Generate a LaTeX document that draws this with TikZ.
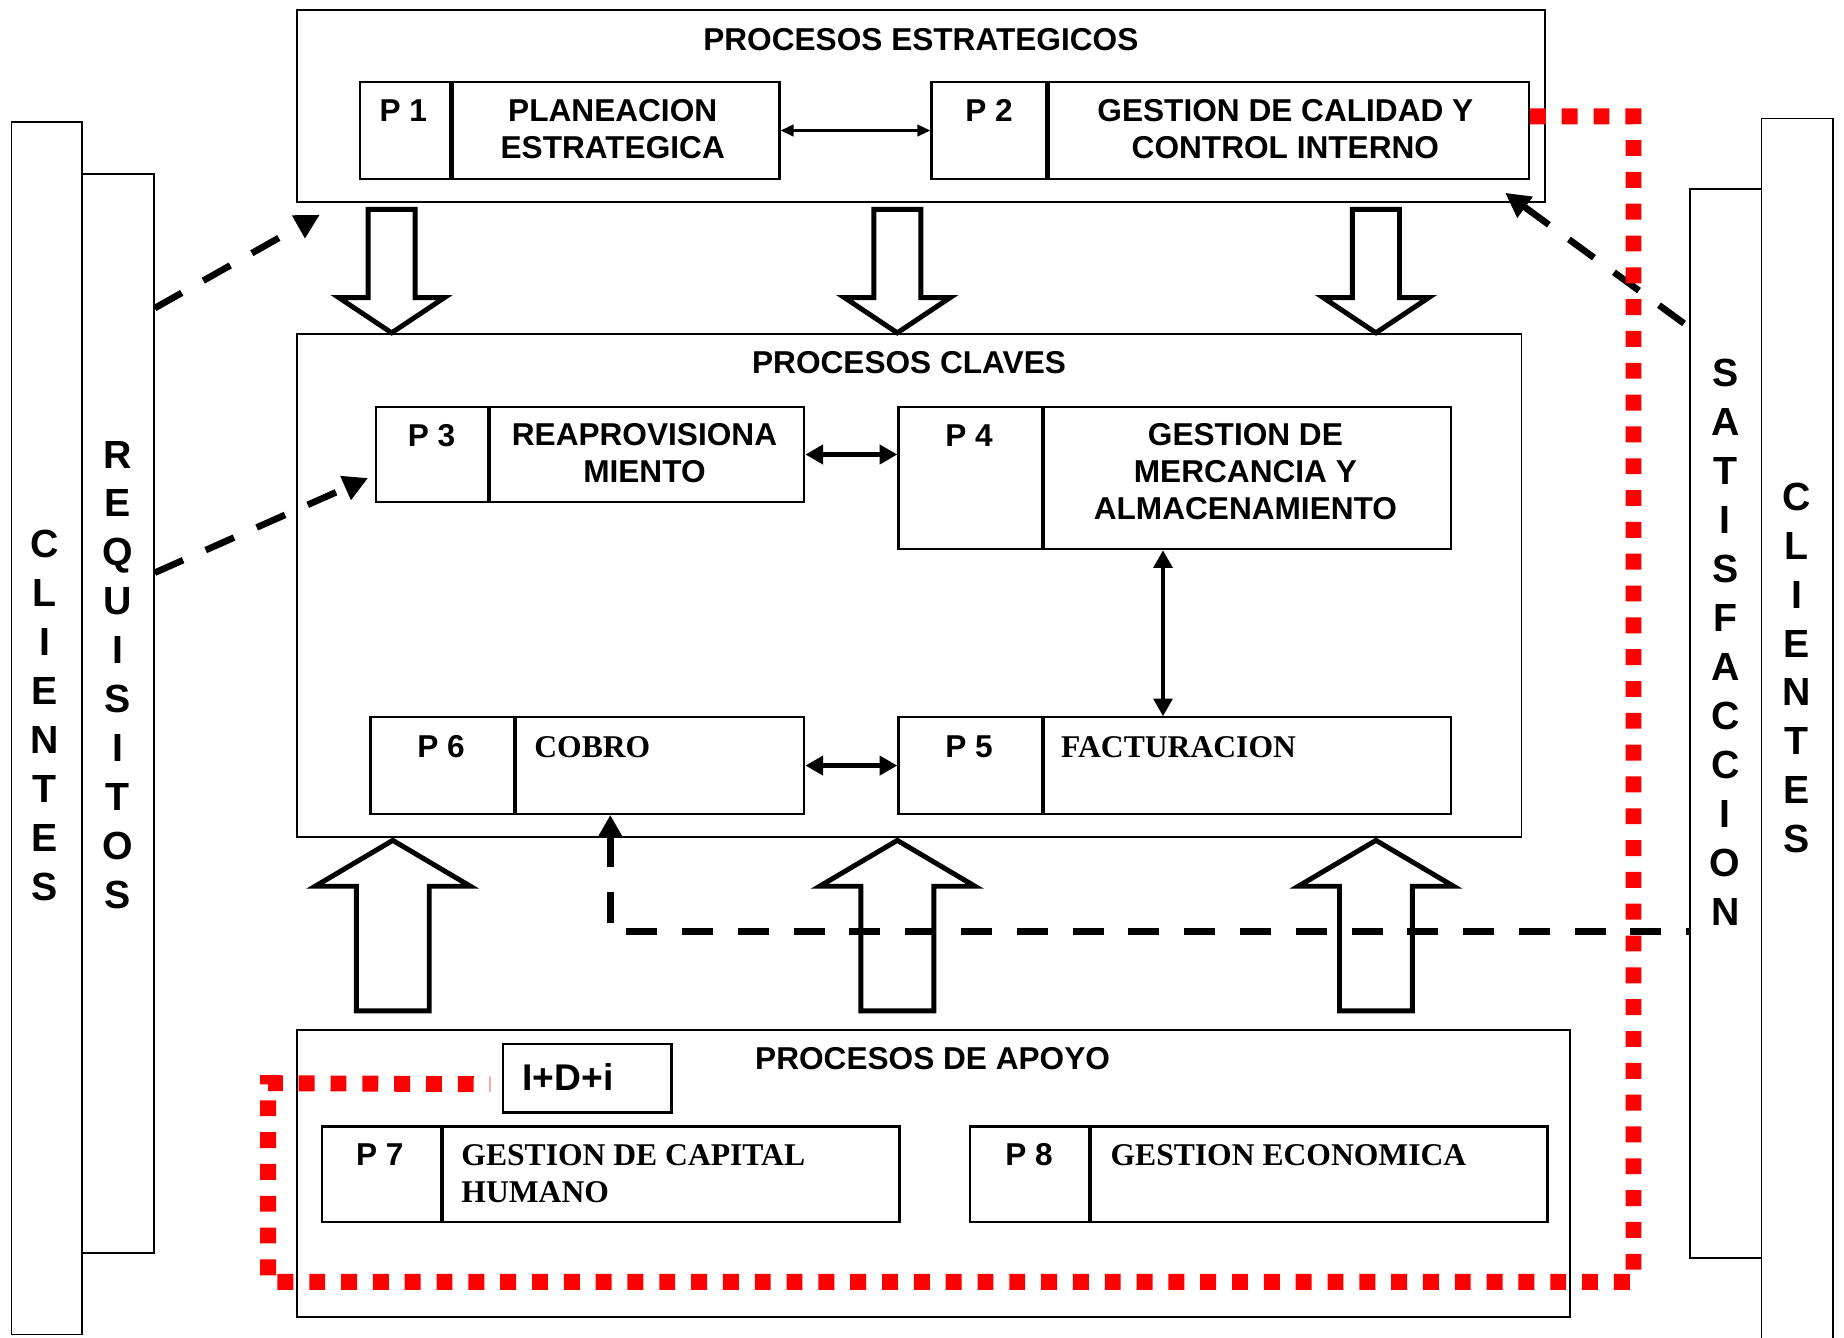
\documentclass[tikz,border=0pt]{standalone}
\usepackage{fontspec}
\setmainfont{Liberation Sans}
\newfontfamily\timesfont{Liberation Serif}
\usepackage{tikz}
\usetikzlibrary{calc, positioning, arrows.meta}

\begin{document}
\begin{tikzpicture}[x=0.02cm, y=-0.02cm]

        % 1. Page size, unit and styles
        \def\u{0.02cm} % one layout pixel
        \useasboundingbox (0,0) rectangle (1568,1137);
        \fill[white] (0,0) rectangle (1568,1137);

        \tikzset{
          box/.style={draw, line width=0.9pt, rectangle, inner sep=0pt, anchor=north west},
          cell/.style={box, line width=1.1pt},
          ttl/.style={font=\fontsize{15.3}{17.8}\selectfont\bfseries, align=center, inner sep=0pt},
          serif/.style={font=\fontsize{15.3}{17.8}\selectfont\timesfont\bfseries, align=left, anchor=west, inner sep=0pt},
          vert/.style={font=\fontsize{19}{23.7}\selectfont\bfseries, align=center, inner sep=0pt},
          block/.style={draw, fill=white, line width=2.4pt, line join=miter},
          dashline/.style={line width=3.2pt, dash pattern=on 15pt off 12pt},
          headend/.style={-{Triangle[length=0.42cm, width=0.42cm]}},
          headstart/.style={{Triangle[length=0.42cm, width=0.42cm]}-},
          thinboth/.style={line width=1pt, {Triangle[length=0.22cm, width=0.2cm]}-{Triangle[length=0.22cm, width=0.2cm]}},
          boldboth/.style={line width=2.2pt, {Triangle[length=0.3cm, width=0.32cm]}-{Triangle[length=0.3cm, width=0.32cm]}},
          reddots/.style={red, line width=7.7pt, dash pattern=on 7.7pt off 7.7pt},
          downblock/.pic={\draw[block] (0,0) -- (-45,-30) -- (-20,-30) -- (-20,-105) -- (20,-105) -- (20,-30) -- (45,-30) -- cycle;},
          upblock/.pic={\draw[block] (0,0) -- (-66,39) -- (-31,39) -- (-31,145) -- (31,145) -- (31,39) -- (66,39) -- cycle;}
        }

        % 2. Side columns
        \node[box, minimum width=60*\u, minimum height=1031*\u] (cliL) at (9,103) {};
        \node[box, minimum width=61*\u, minimum height=918*\u] (req) at (69,147) {};
        \node[box, minimum width=61*\u, minimum height=909*\u] (sat) at (1436,160) {};
        \node[box, minimum width=61*\u, minimum height=1045*\u] (cliR) at (1497,100) {};

        \node[vert] (cliLT) at (38,608.5) {C\\L\\I\\E\\N\\T\\E\\S};
        \node[vert] (reqT) at (100,574) {R\\E\\Q\\U\\I\\S\\I\\T\\O\\S};
        \node[vert] (satT) at (1467,546) {S\\A\\T\\I\\S\\F\\A\\C\\C\\I\\O\\N};
        \node[vert] (cliRT) at (1528,568) {C\\L\\I\\E\\N\\T\\E\\S};

        % 3. Strategic processes
        \node[box, minimum width=1061*\u, minimum height=163*\u] (estr) at (252,8) {};
        \node[ttl] (estrT) at (783,34) {PROCESOS ESTRATEGICOS};

        \node[cell, minimum width=77*\u, minimum height=82*\u] (p1num) at (305,69) {};
        \node[cell, minimum width=278*\u, minimum height=82*\u] (p1) at (p1num.north east) {};
        \node[ttl] (p1L) at (343,94) {P 1};
        \node[ttl] (p1T) at (521,110) {PLANEACION\\ESTRATEGICA};

        \node[cell, minimum width=98*\u, minimum height=82*\u] (p2num) at (791,69) {};
        \node[cell, minimum width=408*\u, minimum height=82*\u] (p2) at (p2num.north east) {};
        \node[ttl] (p2L) at (841,94) {P 2};
        \node[ttl] (p2T) at (1093,110) {GESTION DE CALIDAD Y\\CONTROL INTERNO};

        \draw[thinboth] (p1.east) -- (p2num.west);

        % 4. Key processes
        \node[box, minimum width=1041*\u, minimum height=428*\u] (clav) at (252,283) {};
        \node[ttl] (clavT) at (773,308) {PROCESOS CLAVES};

        \node[cell, minimum width=95*\u, minimum height=81*\u] (p3num) at (319,345) {};
        \node[cell, minimum width=267*\u, minimum height=81*\u] (p3) at (p3num.north east) {};
        \node[ttl] (p3L) at (367,370) {P 3};
        \node[ttl] (p3T) at (548,385.5) {REAPROVISIONA\\MIENTO};

        \node[cell, minimum width=122*\u, minimum height=121*\u] (p4num) at (763,345) {};
        \node[cell, minimum width=346*\u, minimum height=121*\u] (p4) at (p4num.north east) {};
        \node[ttl] (p4L) at (824,370) {P 4};
        \node[ttl] (p4T) at (1059,401) {GESTION DE\\MERCANCIA Y\\ALMACENAMIENTO};

        \node[cell, minimum width=122*\u, minimum height=82*\u] (p6num) at (314,609) {};
        \node[cell, minimum width=245*\u, minimum height=82*\u] (p6) at (p6num.north east) {};
        \node[ttl] (p6L) at (375,635) {P 6};
        \node[serif] (p6T) at (454,635) {COBRO};

        \node[cell, minimum width=122*\u, minimum height=82*\u] (p5num) at (763,609) {};
        \node[cell, minimum width=346*\u, minimum height=82*\u] (p5) at (p5num.north east) {};
        \node[ttl] (p5L) at (824,635) {P 5};
        \node[serif] (p5T) at (902,635) {FACTURACION};

        \draw[boldboth] (p3.east) -- (p3.east -| p4num.west);
        \draw[boldboth, line width=1.8pt] ($(p4.south west)+(102,0)$) -- ($(p5.north west)+(102,0)$);
        \draw[boldboth] (p6.east) -- (p5num.west);

        % 5. Support processes
        \node[box, minimum width=1082*\u, minimum height=244*\u] (apo) at (252,875) {};
        \node[ttl] (apoT) at (793,900) {PROCESOS DE APOYO};

        \node[cell, minimum width=143*\u, minimum height=58*\u] (idi) at (427,887) {};
        \node[ttl, font=\fontsize{18}{20}\selectfont\bfseries] (idiT) at (483,916) {I+D+i};

        \node[cell, minimum width=101*\u, minimum height=81*\u] (p7num) at (273,957) {};
        \node[cell, minimum width=388*\u, minimum height=81*\u] (p7) at (p7num.north east) {};
        \node[ttl] (p7L) at (323,982) {P 7};
        \node[serif] (p7T) at (392,998) {GESTION DE CAPITAL\\HUMANO};

        \node[cell, minimum width=101*\u, minimum height=81*\u] (p8num) at (824,957) {};
        \node[cell, minimum width=388*\u, minimum height=81*\u] (p8) at (p8num.north east) {};
        \node[ttl] (p8L) at (875,982) {P 8};
        \node[serif] (p8T) at (944,982) {GESTION ECONOMICA};

        % 6. Block arrows between the levels
        \pic at ($(clav.north west)+(81,0)$) {downblock};
        \pic at ($(clav.north west)+(511,0)$) {downblock};
        \pic at ($(clav.north west)+(918,0)$) {downblock};
        \pic at ($(clav.south west)+(82,2)$) {upblock};
        \pic at ($(clav.south west)+(511,2)$) {upblock};
        \pic at ($(clav.south west)+(918,2)$) {upblock};

        % 7. Requirements in, satisfaction out
        \draw[dashline, headend] ($(req.north east)+(0,115)$) -- ($(estr.south west)+(20,10)$);
        \draw[dashline, headend] ($(req.north east)+(0,340)$) -- ($(p3num.west)+(-6,20)$);
        % these two start at the head, so a dash meets it
        \draw[dashline, headstart] ($(p2.south east)+(-21,11)$) -- ($(sat.north west)+(0,118)$);
        \draw[dashline, {Triangle[length=0.38cm, width=0.4cm]}-] ($(p6.south west)+(81,0)$) |- ($(sat.north west)+(0,632)$);

        % 8. Red loop from P 2 to I+D+i
        \coordinate (redR) at (1389,1090);
        \coordinate (redL) at (228,921);
        \draw[reddots] ($(p2.north east)+(0,30)$) -| (redR) -| (redL) -- ($(idi.west)+(-10,5)$);

\end{tikzpicture}
\end{document}
